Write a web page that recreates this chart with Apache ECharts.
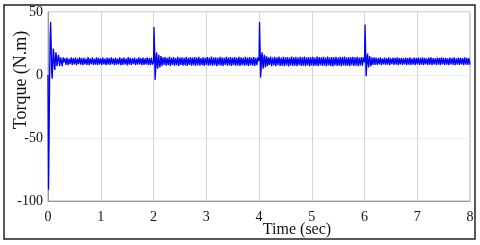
<!DOCTYPE html>
<html>
<head>
<meta charset="utf-8">
<script src="https://cdn.jsdelivr.net/npm/echarts@6/dist/echarts.min.js"></script>
<style>html,body{margin:0;padding:0;background:#fff}#c{width:480px;height:245px}</style>
</head>
<body>
<div id="c"></div>
<script>
// Tick labels
const xTicks = [0, 1, 2, 3, 4, 5, 6, 7, 8];
const yTicks = [-100, -50, 0, 50];
const xTitle = 'Time (sec)';
const yTitle = 'Torque (N.m)';

// Torque samples (N.m), per segment
const startTransient = [0, -91, -55, -5, 30, 42, 25, 2, -3, 10, 21, 18, 6, 4, 12, 18, 15, 7, 6, 13, 16, 12, 7, 8, 14, 14, 9, 7, 12, 14, 10];
const steady1 = [
  13.2, 8.1, 13.8, 7.9, 12.9, 8.6, 14.1, 8.0, 13.4, 8.4,
  13.9, 7.8, 13.1, 8.7, 14.0, 8.2, 13.5, 7.9, 13.7, 8.5,
  13.0, 8.1, 14.2, 7.8, 13.3, 8.6, 13.9, 8.0, 13.1, 8.3,
  14.0, 7.9, 13.6, 8.5, 13.2, 8.0, 13.8, 8.4, 13.0, 7.9,
  13.9, 8.3, 13.4, 8.0, 14.1, 8.6, 13.2, 7.8, 13.7, 8.2,
  13.0, 8.5, 14.0, 7.9, 13.5, 8.1, 13.8, 8.4, 13.1, 7.7,
  14.2, 8.3, 13.6, 8.0, 13.3, 8.6, 13.9, 7.9, 13.0, 8.2,
  14.1, 8.4, 13.5, 7.8, 13.8, 8.1, 13.2, 8.5, 14.0, 8.0,
  13.4, 7.9, 13.7, 8.3];
const transient2 = [10, 38, 22, -4, 3, 15, 18, 8, 5, 12, 16, 11, 6, 9, 15, 13, 7, 8, 14, 12, 8];
const steady2 = [
  14.3, 7.4, 13.6, 7.9, 14.5, 7.2, 13.8, 8.1, 14.2, 7.5,
  13.5, 7.8, 14.4, 7.3, 13.9, 8.0, 14.1, 7.4, 13.7, 7.7,
  14.5, 7.2, 13.6, 8.0, 14.3, 7.5, 13.8, 7.6, 14.2, 7.3,
  13.9, 7.9, 14.4, 7.4, 13.5, 7.8, 14.1, 7.2, 13.7, 8.0,
  14.3, 7.5, 13.8, 7.7, 14.6, 7.3, 13.9, 7.8, 14.0, 7.1,
  13.6, 7.9, 14.4, 7.5, 14.1, 7.2, 13.7, 8.0, 14.5, 7.4,
  13.8, 7.6, 14.2, 7.3, 13.9, 7.9, 14.3, 7.5, 13.6, 7.7,
  14.4, 7.2, 14.0, 7.8, 13.7, 7.4, 14.5, 7.6, 13.9, 7.3,
  14.2, 7.9, 13.8, 7.5, 14.3, 7.2, 13.6, 7.8, 14.1];
const transient4 = [11, 42, 24, -2, 4, 16, 18, 9, 5, 12, 16, 12, 6, 9, 15, 13, 7, 9, 14, 12, 8];
const steady3 = [
  14.6, 7.1, 13.9, 7.6, 14.4, 7.0, 14.0, 7.8, 14.7, 7.2,
  13.8, 7.5, 14.5, 7.1, 14.1, 7.7, 14.3, 6.9, 13.9, 7.6,
  14.6, 7.3, 14.0, 7.4, 14.4, 7.0, 13.8, 7.8, 14.5, 7.2,
  14.1, 7.5, 14.6, 7.1, 13.9, 7.7, 14.3, 7.0, 14.0, 7.6,
  14.5, 7.3, 13.8, 7.5, 14.7, 7.0, 14.2, 7.8, 14.0, 7.2,
  14.4, 7.4, 13.9, 7.1, 14.6, 7.6, 14.1, 7.3, 14.3, 6.9,
  14.0, 7.7, 14.5, 7.2, 13.8, 7.5, 14.4, 7.0, 14.2, 7.6,
  14.6, 7.3, 13.9, 7.4, 14.3, 7.1, 14.0, 7.8, 14.5, 7.2,
  14.1, 7.5, 14.4, 7.0, 13.9, 7.6, 14.2, 7.3, 14.0];
const transient6 = [10, 40, 22, -1, 5, 15, 17, 9, 6, 12, 15, 11, 7, 9, 14, 13, 8, 9, 14, 12, 8];
const steady4 = [
  13.9, 8.0, 13.4, 8.4, 14.0, 7.9, 13.2, 8.5, 13.8, 8.1,
  13.5, 8.3, 14.1, 7.8, 13.3, 8.6, 13.9, 8.0, 13.6, 8.2,
  14.0, 7.9, 13.4, 8.4, 13.7, 8.1, 13.2, 8.5, 13.9, 7.8,
  13.5, 8.3, 14.1, 8.0, 13.3, 8.2, 13.8, 7.9, 13.6, 8.4,
  13.9, 8.1, 13.4, 8.3, 14.0, 7.8, 13.7, 8.5, 13.2, 8.0,
  13.8, 8.2, 14.1, 7.9, 13.5, 8.4, 13.3, 8.1, 13.9, 8.3,
  13.6, 7.8, 14.0, 8.5, 13.4, 8.0, 13.7, 8.2, 13.2, 7.9,
  13.9, 8.4, 13.5, 8.1, 14.1, 7.8, 13.3, 8.3, 13.8, 8.0,
  13.6, 8.5, 13.4, 7.9, 14.0, 8.2, 13.7, 8.1, 13.5, 8.3];

// Sampling of each segment (start time, sample step in sec)
const segments = [
  {start: 0.00, step: 0.01, values: startTransient},
  {start: 0.32, step: 0.02, values: steady1},
  {start: 2.00, step: 0.01, values: transient2},
  {start: 2.22, step: 0.02, values: steady2},
  {start: 4.00, step: 0.01, values: transient4},
  {start: 4.22, step: 0.02, values: steady3},
  {start: 6.00, step: 0.01, values: transient6},
  {start: 6.22, step: 0.02, values: steady4}
];

const data = [];
segments.forEach(s => s.values.forEach((v, i) => data.push([+(s.start + i * s.step).toFixed(3), v])));

const chart = echarts.init(document.getElementById('c'), null, {renderer: 'canvas'});
const font = 'Liberation Serif';
chart.setOption({
  animation: false,
  backgroundColor: '#fff',
  grid: {left: 48, right: 10, top: 12, bottom: 44, containLabel: false, outerBoundsMode: 'none',
         show: true, borderColor: '#b0b0b0', borderWidth: 1},
  xAxis: {
    type: 'value', min: xTicks[0], max: xTicks[xTicks.length - 1], interval: 1,
    axisLine: {show: true, onZero: false, lineStyle: {color: '#999', width: 1}},
    axisTick: {show: false},
    axisLabel: {color: '#111', fontFamily: font, fontSize: 14, margin: 9},
    splitLine: {show: true, lineStyle: {color: '#d6d6d6', width: 1}}
  },
  yAxis: {
    type: 'value', min: yTicks[0], max: yTicks[yTicks.length - 1], interval: 50,
    axisLine: {show: true, onZero: false, lineStyle: {color: '#999', width: 1}},
    axisTick: {show: false},
    axisLabel: {color: '#111', fontFamily: font, fontSize: 14, margin: 5},
    splitLine: {show: true, lineStyle: {color: '#eeeeee', width: 1}}
  },
  graphic: [
    {type: 'rect', shape: {x: 4, y: 5, width: 471, height: 234}, style: {fill: 'none', stroke: '#222', lineWidth: 1.5}, z: 100},
    {type: 'text', x: 297, y: 230, style: {text: xTitle, fill: '#111', font: '16px "Liberation Serif"', textAlign: 'center', textVerticalAlign: 'middle'}, z: 100},
    {type: 'text', x: 21, y: 80, rotation: Math.PI / 2, style: {text: yTitle, fill: '#111', font: '18px "Liberation Serif"', textAlign: 'center', textVerticalAlign: 'middle'}, z: 100}
  ],
  series: [{
    type: 'line', data: data, showSymbol: false, symbol: 'none',
    lineStyle: {color: '#0000ff', width: 1.3}
  }]
});
</script>
</body>
</html>
